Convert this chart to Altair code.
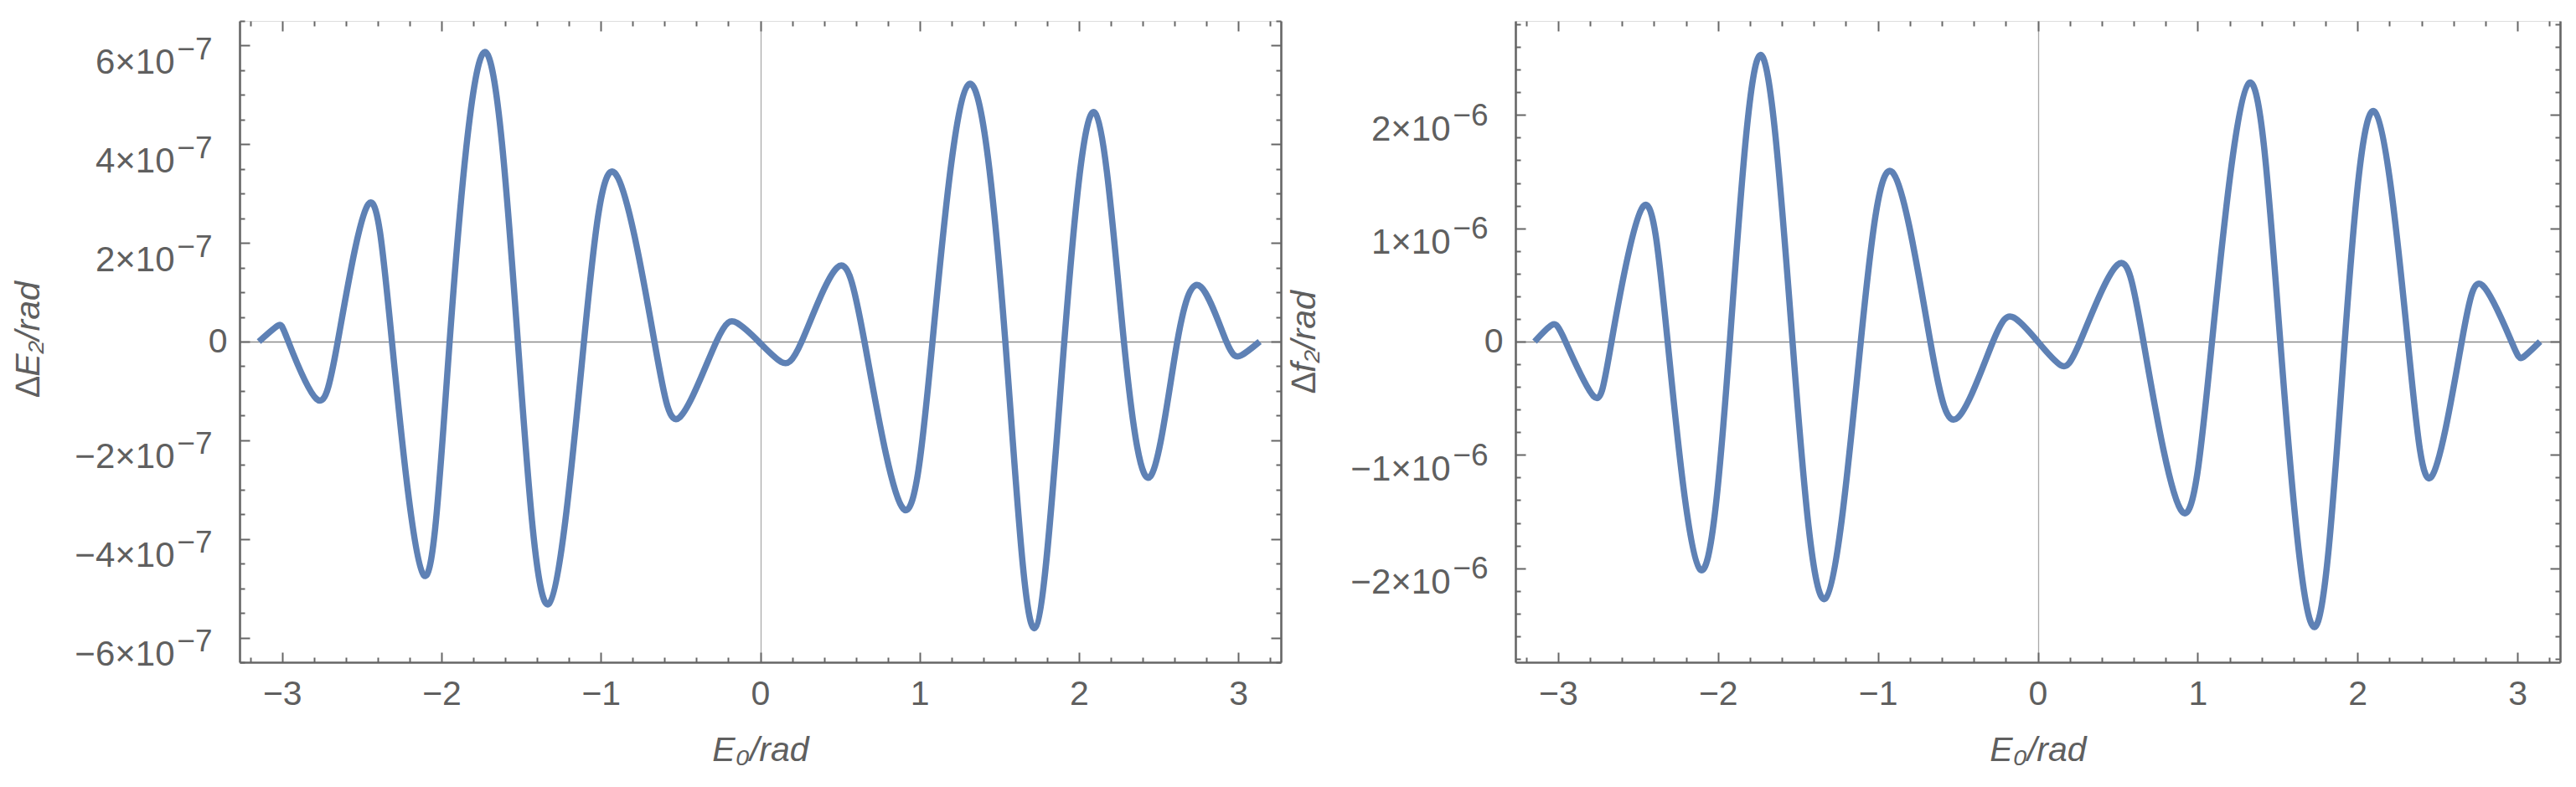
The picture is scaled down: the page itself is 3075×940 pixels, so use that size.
import altair as alt
import pandas as pd

FONT = "Liberation Sans"
TEXT = "#5f5f5f"
FRAME = "#666666"
BLUE = "#5E81B5"
ZERO_H = "#8a8a8a"
ZERO_V = "#aaaaaa"

X_DOMAIN = [-3.267, 3.267]
X_MAJOR = [-3, -2, -1, 0, 1, 2, 3]
X_MINOR = [-3.2, -2.8, -2.6, -2.4, -2.2, -1.8, -1.6, -1.4, -1.2, -0.8, -0.6, -0.4, -0.2,
           0.2, 0.4, 0.6, 0.8, 1.2, 1.4, 1.6, 1.8, 2.2, 2.4, 2.6, 2.8, 3.2]

# ---- left panel: Delta E2 / rad ----
E0_LEFT = [-3.146, -3.029, -2.961, -2.785, -2.651, -2.458, -2.311, -2.110, -1.949, -1.729,
           -1.521, -1.328, -1.106, -0.913, -0.664, -0.504, -0.275, -0.147, -0.010, 0.131,
           0.260, 0.483, 0.654, 0.898, 1.081, 1.310, 1.538, 1.720, 1.908, 2.100,
           2.282, 2.449, 2.617, 2.765, 2.925, 3.018, 3.134]
DE2 = [0.0, 0.32e-7, 0.0, -1.16e-7, 0.0, 2.79e-7, 0.0, -4.74e-7, 0.0, 5.87e-7,
       0.0, -5.32e-7, 0.0, 3.42e-7, 0.0, -1.53e-7, 0.0, 0.38e-7, 0.0, -0.41e-7,
       0.0, 1.50e-7, 0.0, -3.39e-7, 0.0, 5.22e-7, 0.0, -5.81e-7, 0.0, 4.64e-7,
       0.0, -2.73e-7, 0.0, 1.11e-7, 0.0, -0.28e-7, 0.0]
E_DOMAIN = [-6.5e-7, 6.5e-7]
E_MAJOR = [-6e-7, -4e-7, -2e-7, 2e-7, 4e-7, 6e-7]
E_MINOR = [-6.5e-7, -5.5e-7, -5e-7, -4.5e-7, -3.5e-7, -3e-7, -2.5e-7, -1.5e-7, -1e-7, -0.5e-7,
           0.5e-7, 1e-7, 1.5e-7, 2.5e-7, 3e-7, 3.5e-7, 4.5e-7, 5e-7, 5.5e-7, 6.5e-7]

# ---- right panel: Delta f2 / rad ----
E0_RIGHT = [-3.147, -3.040, -2.954, -2.778, -2.666, -2.467, -2.315, -2.111, -1.926, -1.735,
            -1.534, -1.330, -1.107, -0.910, -0.672, -0.501, -0.280, -0.151, 0.0, 0.143,
            0.265, 0.498, 0.661, 0.905, 1.090, 1.323, 1.517, 1.731, 1.920, 2.107,
            2.315, 2.462, 2.652, 2.782, 2.963, 3.036, 3.142]
DF2 = [0.0, 1.46e-7, 0.0, -4.82e-7, 0.0, 1.195e-6, 0.0, -2.013e-6, 0.0, 2.53e-6,
       0.0, -2.27e-6, 0.0, 1.496e-6, 0.0, -6.72e-7, 0.0, 2.13e-7, 0.0, -2.08e-7,
       0.0, 6.77e-7, 0.0, -1.504e-6, 0.0, 2.283e-6, 0.0, -2.52e-6, 0.0, 2.03e-6,
       0.0, -1.194e-6, 0.0, 4.96e-7, 0.0, -1.37e-7, 0.0]
F_DOMAIN = [-2.83e-6, 2.83e-6]
F_MAJOR = [-2e-6, -1e-6, 1e-6, 2e-6]
F_MINOR = [-2.8e-6, -2.6e-6, -2.4e-6, -2.2e-6, -1.8e-6, -1.6e-6, -1.4e-6, -1.2e-6,
           -0.8e-6, -0.6e-6, -0.4e-6, -0.2e-6, 0.2e-6, 0.4e-6, 0.6e-6, 0.8e-6,
           1.2e-6, 1.4e-6, 1.6e-6, 1.8e-6, 2.2e-6, 2.4e-6, 2.6e-6, 2.8e-6]

HEIGHT = 766
DOMAIN_W = 2.6


def tick_axis(orient, values, size):
    return alt.Axis(orient=orient, values=values, labels=False, ticks=True, tickSize=size,
                    offset=-size, domain=False, grid=False, title=None,
                    tickColor=FRAME, tickWidth=2)


def zero_axis(orient, color):
    return alt.Axis(orient=orient, values=[0], labels=False, ticks=False, tickSize=0,
                    domain=False, grid=True, gridColor=color, gridWidth=1.3, title=None)


def frame_axis(orient):
    return alt.Axis(orient=orient, values=[0], labels=False, ticks=False, tickSize=0,
                    domain=True, domainColor=FRAME, domainWidth=DOMAIN_W, grid=False,
                    title=None)


def label_axis(orient, values, expr, size, pad, off=0, **kw):
    return alt.Axis(orient=orient, values=values, labelExpr=expr, ticks=False, tickSize=0,
                    grid=False, labelFontSize=size, labelPadding=pad,
                    labelOffset=off, labelColor=TEXT, labelFont=FONT, labelFlush=False,
                    labelOverlap=False, **kw)


def panel(xs, ys, ydom, ymaj, ymin, ytitle, factor, exp_text, width, title_y,
          mant_off, exp_off):
    df = pd.DataFrame({"x": xs, "y": ys})
    xsc = alt.Scale(domain=X_DOMAIN, nice=False, zero=False)
    ysc = alt.Scale(domain=ydom, nice=False, zero=False)
    base = alt.Chart(df)

    def lay(xaxis, yaxis, visible=False):
        if visible:
            m = base.mark_line(color=BLUE, strokeWidth=7.5, interpolate="natural",
                               clip=True)
        else:
            m = base.mark_line(opacity=0, strokeWidth=0)
        return m.encode(x=alt.X("x:Q", scale=xsc, axis=xaxis),
                        y=alt.Y("y:Q", scale=ysc, axis=yaxis))

    x_lab = label_axis(
        "bottom", X_MAJOR,
        "datum.value < 0 ? '\u2212' + abs(datum.value) : '' + datum.value",
        41, 18, domain=True, domainColor=FRAME, domainWidth=DOMAIN_W,
        title="E\u2080/rad", titleFont=FONT, titleFontSize=41, titleFontStyle="italic",
        titleFontWeight="normal", titleColor=TEXT, titleX=width / 2, titleY=105,
        titleBaseline="middle", titleAlign="center")
    y_zero_lab = label_axis(
        "left", [0], "'0'", 41, 15, domain=True, domainColor=FRAME, domainWidth=DOMAIN_W,
        title=ytitle, titleFont=FONT, titleFontSize=41, titleFontStyle="italic",
        titleFontWeight="normal", titleColor=TEXT, titleX=-252, titleY=title_y,
        titleBaseline="middle", titleAlign="center", titleAngle=270)
    mant_expr = ("(datum.value < 0 ? '\u2212' : '') + format(abs(datum.value) * %g, '.0f')"
                 " + '\u00d710'" % factor)
    y_mant = label_axis("left", ymaj, mant_expr, 42, 78, mant_off, domain=False, title=None)
    y_exp = label_axis("left", ymaj, "'%s'" % exp_text, 37, 33, exp_off, domain=False,
                       title=None)

    layers = [
        lay(zero_axis("bottom", ZERO_V), zero_axis("left", ZERO_H)),
        lay(tick_axis("bottom", X_MAJOR, 12), tick_axis("left", ymaj + [0], 12)),
        lay(tick_axis("bottom", X_MINOR, 6), tick_axis("left", ymin, 6)),
        lay(tick_axis("top", X_MAJOR, 12), tick_axis("right", ymaj + [0], 12)),
        lay(tick_axis("top", X_MINOR, 6), tick_axis("right", ymin, 6)),
        lay(None, frame_axis("right")),
        lay(None, y_mant),
        lay(None, y_exp),
        lay(x_lab, y_zero_lab, visible=True),
    ]
    return alt.layer(*layers).resolve_axis(x="independent", y="independent").properties(
        width=width, height=HEIGHT)


left = panel(E0_LEFT, DE2, E_DOMAIN, E_MAJOR, E_MINOR, "\u2206E\u2082/rad", 1e7,
             "\u22127", 1243, 380, 20, 5)
right = panel(E0_RIGHT, DF2, F_DOMAIN, F_MAJOR, F_MINOR, "\u2206f\u2082/rad", 1e6,
              "\u22126", 1247, 383, 17, 1)

chart = alt.hconcat(left, right, spacing=280, bounds="flush").properties(
    padding={"left": 4, "top": 15, "right": 5, "bottom": 5}
).configure_view(stroke="transparent", strokeWidth=0).configure(background="white")

chart.save("out.html", embed_options={"renderer": "svg", "actions": False})
